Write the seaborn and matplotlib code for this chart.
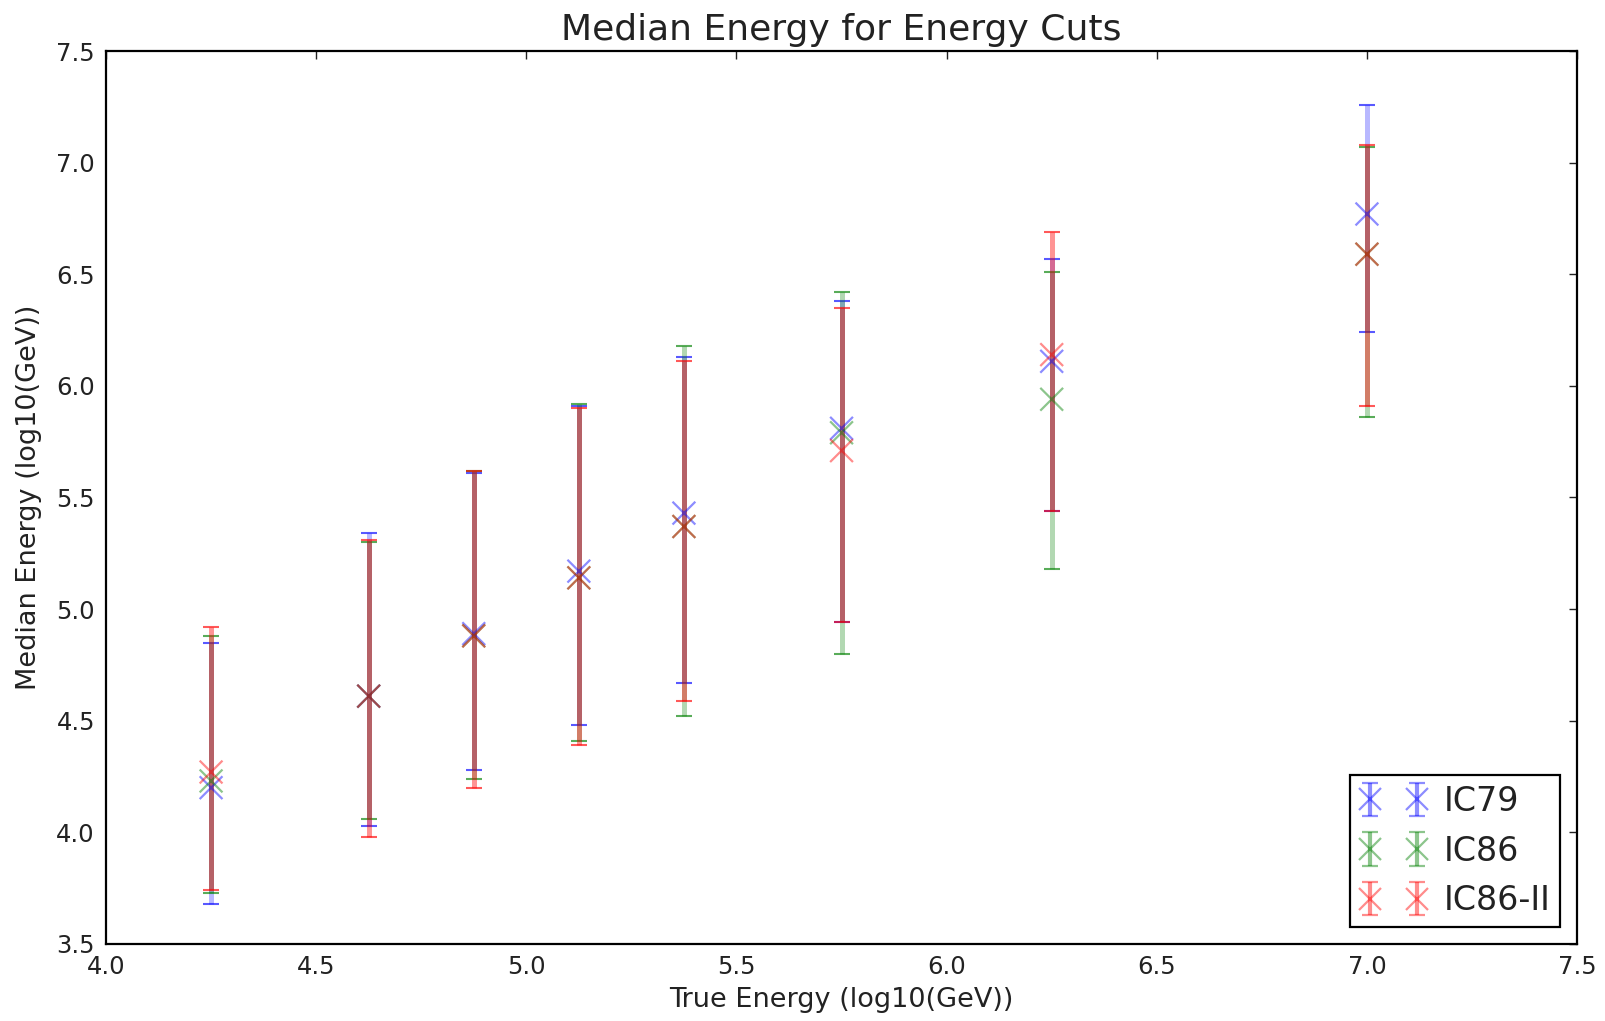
import numpy as np
import pandas as pd
import matplotlib
matplotlib.use("Agg")
import matplotlib.pyplot as plt
import seaborn as sns

# ---- data ----
true_energy = [4.25, 4.625, 4.875, 5.125, 5.375, 5.75, 6.25, 7.0]
series_names = ["IC79", "IC86", "IC86-II"]

ic79_median = [4.20, 4.61, 4.89, 5.17, 5.43, 5.81, 6.11, 6.77]
ic79_upper = [4.85, 5.34, 5.61, 5.91, 6.13, 6.38, 6.57, 7.26]
ic79_lower = [3.68, 4.03, 4.28, 4.48, 4.67, 4.94, 5.44, 6.24]

ic86_median = [4.23, 4.61, 4.88, 5.14, 5.37, 5.79, 5.94, 6.59]
ic86_upper = [4.88, 5.30, 5.62, 5.92, 6.18, 6.42, 6.51, 7.07]
ic86_lower = [3.73, 4.06, 4.24, 4.41, 4.52, 4.80, 5.18, 5.86]

ic86ii_median = [4.27, 4.61, 4.88, 5.14, 5.37, 5.71, 6.14, 6.59]
ic86ii_upper = [4.92, 5.31, 5.62, 5.90, 6.11, 6.35, 6.69, 7.08]
ic86ii_lower = [3.74, 3.98, 4.20, 4.39, 4.59, 4.94, 5.44, 5.91]

x_ticks = [4.0, 4.5, 5.0, 5.5, 6.0, 6.5, 7.0, 7.5]
y_ticks = [3.5, 4.0, 4.5, 5.0, 5.5, 6.0, 6.5, 7.0, 7.5]

medians = [ic79_median, ic86_median, ic86ii_median]
uppers = [ic79_upper, ic86_upper, ic86ii_upper]
lowers = [ic79_lower, ic86_lower, ic86ii_lower]
colors = ["#0000ff", "#008000", "#ff0000"]
bar_alpha = [0.28, 0.3, 0.42]

frames = []
for name, med, up, lo in zip(series_names, medians, uppers, lowers):
    frames.append(pd.DataFrame({"true": true_energy, "median": med,
                                "upper": up, "lower": lo, "set": name}))
df = pd.concat(frames, ignore_index=True)

sns.set_theme(style="white")
plt.rcParams["font.family"] = ["DejaVu Sans"]

fig = plt.figure(figsize=(16.06, 10.21), dpi=100)
ax = fig.add_axes([0.066, 0.0755, 0.916, 0.8745])

for name, col, a in zip(series_names, colors, bar_alpha):
    d = df[df["set"] == name]
    yerr = np.vstack([d["median"] - d["lower"], d["upper"] - d["median"]])
    eb = ax.errorbar(d["true"], d["median"], yerr=yerr, fmt="none",
                     ecolor=col, elinewidth=3.6, capsize=6, capthick=1.5,
                     alpha=a)
    for cl in eb[1]:
        cl.set_alpha(0.65)

sns.scatterplot(data=df, x="true", y="median", hue="set", palette=colors,
                marker="x", s=270, linewidth=1.6, alpha=0.45, ax=ax,
                legend=False, zorder=3)

# legend proxies combining marker + errorbar
leg_handles = []
for name, col in zip(series_names, colors):
    eb = ax.errorbar([np.nan], [np.nan], yerr=[[0.1], [0.1]], fmt="x",
                     color=col, ecolor=col, elinewidth=3.0, capsize=6,
                     capthick=1.6, markersize=16, mew=1.6, alpha=0.45,
                     label=name)
    leg_handles.append(eb)

leg = ax.legend(handles=leg_handles, labels=series_names, loc="lower right",
                numpoints=2, fontsize=24, frameon=True, fancybox=False,
                borderpad=0.3, handlelength=2.0, handletextpad=0.5,
                labelspacing=0.5, borderaxespad=0.5)
leg.get_frame().set_edgecolor("black")
leg.get_frame().set_linewidth(1.6)
leg.get_frame().set_alpha(1.0)
for t in leg.get_texts():
    t.set_color("#222222")

ax.set_xlim(4.0, 7.5)
ax.set_ylim(3.5, 7.5)
ax.set_xticks(x_ticks)
ax.set_yticks(y_ticks)
ax.set_xticklabels([f"{t:.1f}" for t in x_ticks])
ax.set_yticklabels([f"{t:.1f}" for t in y_ticks])
ax.tick_params(direction="in", length=6, width=1, top=True, right=True,
               labelsize=17.5, colors="#222222", pad=8)
for sp in ax.spines.values():
    sp.set_edgecolor("black")
    sp.set_linewidth(1.6)
    sp.set_visible(True)

ax.set_xlabel("True Energy (log10(GeV))", fontsize=19.5, color="#222222",
              labelpad=6)
ax.set_ylabel("Median Energy (log10(GeV))", fontsize=19.5, color="#222222",
              labelpad=10)
ax.set_title("Median Energy for Energy Cuts", fontsize=26, color="#222222",
             pad=8)

fig.savefig("out.png", dpi=100)
